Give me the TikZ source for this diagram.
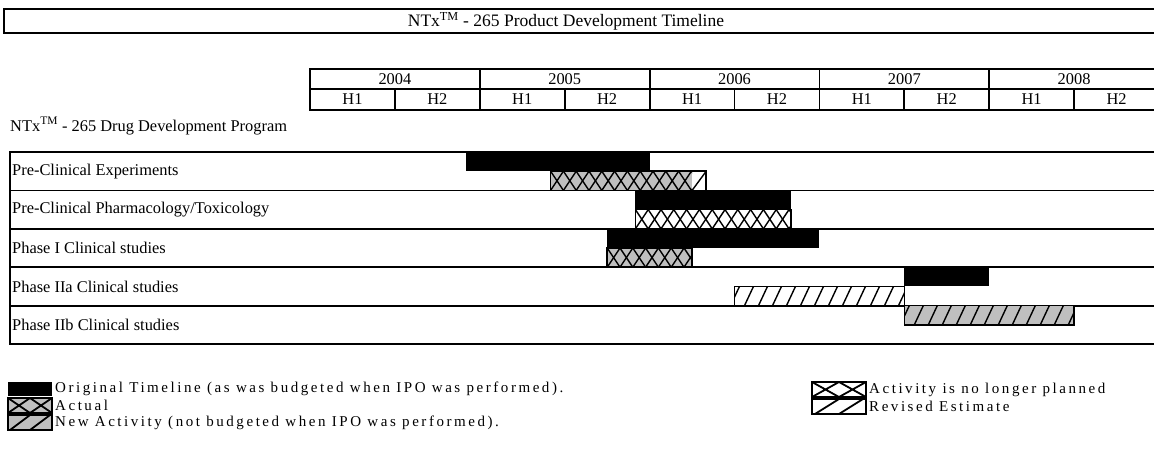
\documentclass[tikz,border=0pt]{standalone}
\usepackage{fontspec}
\setmainfont{Liberation Serif}
\newfontfamily\legfont[LetterSpace=17]{Liberation Serif}
\begin{document}
\begin{tikzpicture}[x=1pt,y=-1pt,
  frame/.style={line width=2.2pt,line cap=rect},
  lbl/.style={font=\fontsize{16.4}{18}\selectfont,inner sep=0pt},
  leg/.style={font=\legfont\fontsize{15}{17}\selectfont,inner sep=0pt,anchor=west},
  barline/.style={line width=1.6pt},
  hatchline/.style={line width=1.4pt},
  orig/.style={fill=black},
  graybar/.style={fill=black!25}]
\useasboundingbox (0,0) rectangle (1154,461);
\fill[white] (0,0) rectangle (1154,461);
\newcommand\xcross[5]{% x1 x2 y1 y2 fill
  \begin{scope}
    \clip (#1,#3) rectangle (#2,#4);
    \fill[#5] (#1,#3) rectangle (#2,#4);
    \foreach \k in {0,...,14}{
      \draw[hatchline] ({#1+\k*12.8},#4) -- ++(12.8,{#3-#4});
      \draw[hatchline] ({#1+\k*12.8},#3) -- ++(12.8,{#4-#3});
    }
  \end{scope}}
\newcommand\xslash[5]{% x1 x2 y1 y2 fill
  \begin{scope}
    \clip (#1,#3) rectangle (#2,#4);
    \fill[#5] (#1,#3) rectangle (#2,#4);
    \foreach \k in {0,...,14}{
      \draw[hatchline] ({#1+\k*14-4},#4) -- ++(9,{#3-#4});
    }
  \end{scope}}
% title
\draw[frame] (1160,9) -- (4,9) -- (4,33) -- (1160,33);
\node[font=\fontsize{17.5}{19}\selectfont,inner sep=0pt] (title) at (566,21.5) {NTx\textsuperscript{TM} - 265 Product Development Timeline};
% header
\draw[frame] (1160,69) -- (310,69) -- (310,110) -- (1160,110);
\draw[line width=1.6pt] (310,89) -- (1160,89);
\foreach \i/\yr in {0/2004,1/2005,2/2006,3/2007,4/2008}{
  \pgfmathsetmacro\xa{310+\i*169.8}
  \draw[line width=1.8pt] (\xa,69) -- (\xa,111);
  \draw[line width=1.8pt] (\xa+84.9,89) -- (\xa+84.9,111);
  \node[lbl] (y\yr) at (\xa+84.9,79.5) {\yr};
  \node[lbl] (h1\yr) at (\xa+42.45,99.5) {H1};
  \node[lbl] (h2\yr) at (\xa+127.35,99.5) {H2};
}
\node[lbl,anchor=west] (prog) at (10,126) {NTx\textsuperscript{TM} - 265 Drug Development Program};
% rows
\draw[frame] (1160,152) -- (10,152) -- (10,344) -- (1160,344);
\foreach \r in {1,2,3,4}{
  \draw[line width=1.8pt] (10,152+\r*38.4) -- (1160,152+\r*38.4);
}
\node[lbl,anchor=west] (r1) at (12,171.2) {Pre-Clinical Experiments};
\node[lbl,anchor=west] (r2) at (12,209.6) {Pre-Clinical Pharmacology/Toxicology};
\node[lbl,anchor=west] (r3) at (12,248.0) {Phase I Clinical studies};
\node[lbl,anchor=west] (r4) at (12,286.4) {Phase IIa Clinical studies};
\node[lbl,anchor=west] (r5) at (12,324.8) {Phase IIb Clinical studies};
% row 1
\fill[orig] (465.6,152) rectangle (649.6,171.2);
\xcross{550.6}{692.1}{171.2}{190.4}{graybar}
\draw[hatchline] (692.1,190.4) -- (706.2,171.2);
\draw[barline] (550.6,171.2) rectangle (706.2,190.4);
% row 2
\fill[orig] (635.4,190.4) rectangle (791.1,209.6);
\xcross{635.4}{791.1}{209.6}{228.8}{white}
\draw[barline] (635.4,209.6) rectangle (791.1,228.8);
% row 3
\fill[orig] (607.2,228.8) rectangle (819.4,248.0);
\xcross{607.2}{692.1}{248.0}{267.2}{graybar}
\draw[barline] (607.2,248.0) rectangle (692.1,267.2);
% row 4
\fill[orig] (904.3,267.2) rectangle (989.2,286.4);
\xslash{734.5}{904.3}{286.4}{305.6}{white}
\draw[barline] (734.5,286.4) rectangle (904.3,305.6);
% row 5
\xslash{904.3}{1074.1}{305.6}{324.8}{graybar}
\draw[barline] (904.3,305.6) rectangle (1074.1,324.8);
% legend
\fill[black] (8,382) rectangle (52,396);
\node[leg] (l1) at (55,389) {Original Timeline (as was budgeted when IPO was performed).};
\fill[graybar] (8,398) rectangle (52,413);
\draw[line width=1.8pt] (8,398) -- (30,413) (8,413) -- (30,398) (30,398) -- (52,413) (30,413) -- (52,398);
\draw[line width=2pt] (8,398) rectangle (52,413);
\node[leg] (l2) at (55,405.5) {Actual};
\fill[graybar] (8,415) rectangle (52,430);
\draw[line width=1.8pt] (10,430) -- (30,415) (30,430) -- (50,415);
\draw[line width=2pt] (8,415) rectangle (52,430);
\node[leg] (l3) at (55,422.5) {New Activity (not budgeted when IPO was performed).};
\draw[line width=1.8pt] (812,382) -- (839,397) (812,397) -- (839,382) (839,382) -- (866,397) (839,397) -- (866,382);
\draw[line width=2pt] (812,382) rectangle (866,397);
\node[leg] (l4) at (869,389.5) {Activity is no longer planned};
\draw[line width=1.8pt] (815,414) -- (839,399) (839,414) -- (863,399);
\draw[line width=2pt] (812,399) rectangle (866,414);
\node[leg] (l5) at (869,406.5) {Revised Estimate};
\end{tikzpicture}
\end{document}
